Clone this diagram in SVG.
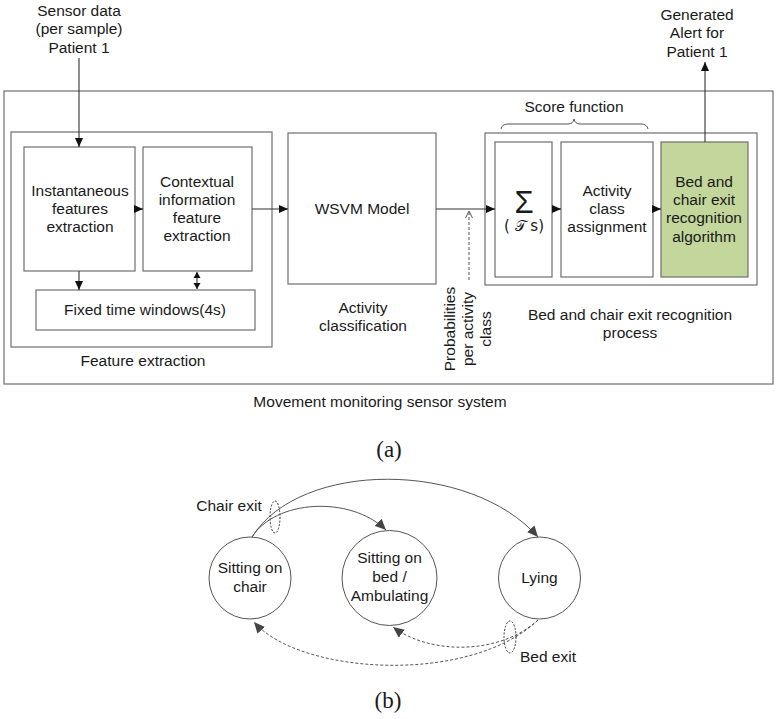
<svg xmlns="http://www.w3.org/2000/svg" width="777" height="719" viewBox="0 0 777 719">
<defs>
<style>
text{font-family:"Liberation Sans",Arial,sans-serif;font-size:15.5px;fill:#1a1a1a;text-anchor:middle}
.box{fill:#fff;stroke:#6e6e6e;stroke-width:1.2}
.ln{fill:none;stroke:#333;stroke-width:1.1}
.gl{fill:none;stroke:#555;stroke-width:1}
.dash{fill:none;stroke:#555;stroke-width:1;stroke-dasharray:3,2}
.dot{fill:none;stroke:#333;stroke-width:1;stroke-dasharray:2,1.5}
.serif{font-family:"Liberation Serif","Times New Roman",serif;font-size:23px}
</style>
<marker id="ah" markerWidth="10" markerHeight="8" refX="9" refY="4" orient="auto" markerUnits="userSpaceOnUse">
<path d="M0,0 L9,4 L0,8 Z" fill="#111"/>
</marker>
<marker id="ahs" markerWidth="8" markerHeight="8" refX="6" refY="4" orient="auto-start-reverse" markerUnits="userSpaceOnUse">
<path d="M0,0.5 L6,4 L0,7.5 Z" fill="#111"/>
</marker>
<marker id="ag" markerWidth="12" markerHeight="10" refX="11" refY="5" orient="auto" markerUnits="userSpaceOnUse">
<path d="M0,0 L11,5 L0,10 Z" fill="#444"/>
</marker>
<marker id="ao" markerWidth="8" markerHeight="8" refX="7" refY="4" orient="auto" markerUnits="userSpaceOnUse">
<path d="M0,0.5 L7,4 L0,7.5" fill="none" stroke="#555" stroke-width="1"/>
</marker>
</defs>
<rect width="777" height="719" fill="#fff"/>

<g id="system">
<rect class="box" x="4" y="91" width="769" height="293"/>
<text x="380" y="407">Movement monitoring sensor system</text>
</g>

<g id="feature-extraction">
<rect class="box" x="11" y="132" width="261" height="215"/>
<text x="143" y="366">Feature extraction</text>
</g>

<g id="instantaneous">
<rect class="box" x="24" y="147" width="111" height="124"/>
<text x="80" y="196">Instantaneous</text>
<text x="80" y="214">features</text>
<text x="80" y="232">extraction</text>
</g>

<g id="contextual">
<rect class="box" x="143" y="147" width="109" height="124"/>
<text x="197" y="187">Contextual</text>
<text x="197" y="205">information</text>
<text x="197" y="223">feature</text>
<text x="197" y="241">extraction</text>
</g>

<g id="fixed-windows">
<rect class="box" x="36" y="290" width="219" height="40"/>
<text x="145" y="315">Fixed time windows(4s)</text>
</g>

<g id="wsvm">
<rect class="box" x="288" y="133" width="148" height="151"/>
<text x="362" y="214">WSVM Model</text>
<text x="363" y="313">Activity</text>
<text x="363" y="331">classification</text>
</g>

<g id="recognition-process">
<rect class="box" x="485" y="133" width="272" height="152"/>
<text x="630" y="320">Bed and chair exit recognition</text>
<text x="630" y="338">process</text>
</g>

<g id="score-function">
<path class="gl" d="M501,129 Q502,124 508,124 L568,124 Q573,124 574,119 Q575,124 580,124 L641,124 Q647,124 648,129"/>
<text x="574" y="112">Score function</text>
</g>

<g id="sum">
<rect class="box" x="495" y="142" width="57" height="135"/>
<text x="524" y="213" style="font-size:31px">Σ</text>
<text x="524" y="231" style="font-family:'DejaVu Sans',sans-serif;font-size:15px">( 𝒯 s)</text>
</g>

<g id="activity-class">
<rect class="box" x="561" y="142" width="92" height="135"/>
<text x="607" y="196">Activity</text>
<text x="607" y="214">class</text>
<text x="607" y="232">assignment</text>
</g>

<g id="exit-algorithm">
<rect x="661" y="142" width="87" height="135" fill="#c3d69b" stroke="#6e6e6e" stroke-width="1.2"/>
<text x="704" y="187">Bed and</text>
<text x="704" y="205">chair exit</text>
<text x="704" y="223">recognition</text>
<text x="704" y="242">algorithm</text>
</g>

<g id="sensor-input">
<text x="79" y="16">Sensor data</text>
<text x="79" y="34">(per sample)</text>
<text x="79" y="53">Patient 1</text>
</g>

<g id="alert-output">
<text x="697" y="20">Generated</text>
<text x="697" y="38">Alert for</text>
<text x="697" y="57">Patient 1</text>
</g>

<g id="probabilities-label">
<text transform="translate(455,329) rotate(-90)">Probabilities</text>
<text transform="translate(473,329) rotate(-90)">per activity</text>
<text transform="translate(491,329) rotate(-90)">class</text>
</g>

<g id="caption-a"><text class="serif" x="389" y="457">(a)</text></g>

<g id="chair">
<circle class="gl" cx="250" cy="578" r="41"/>
<text x="250" y="573">Sitting on</text>
<text x="250" y="592">chair</text>
</g>
<g id="bed-ambulating">
<circle class="gl" cx="389.5" cy="578" r="47.5"/>
<text x="389.5" y="563">Sitting on</text>
<text x="389.5" y="582">bed /</text>
<text x="389.5" y="601">Ambulating</text>
</g>
<g id="lying">
<circle class="gl" cx="539.5" cy="578" r="41"/>
<text x="539.5" y="583">Lying</text>
</g>

<g id="connectors">
<line class="ln" x1="79" y1="58" x2="79" y2="147" marker-end="url(#ah)"/>
<line class="ln" x1="135" y1="209" x2="143" y2="209" marker-end="url(#ah)"/>
<line class="ln" x1="252" y1="209" x2="288" y2="209" marker-end="url(#ah)"/>
<line class="ln" x1="79" y1="271" x2="79" y2="290" marker-end="url(#ah)"/>
<line class="ln" x1="197" y1="272" x2="197" y2="289" marker-start="url(#ahs)" marker-end="url(#ahs)"/>
<line class="ln" x1="436" y1="209" x2="495" y2="209" marker-end="url(#ah)"/>
<line class="ln" x1="552" y1="209" x2="561" y2="209" marker-end="url(#ah)"/>
<line class="ln" x1="653" y1="209" x2="661" y2="209" marker-end="url(#ah)"/>
<line class="ln" x1="705" y1="142" x2="705" y2="62" marker-end="url(#ah)"/>
<line class="dash" x1="469" y1="280" x2="469" y2="211" marker-end="url(#ao)"/>

<path class="gl" d="M252,537 C275,500 350,495 386,530" marker-end="url(#ag)"/>
<path class="gl" d="M252,537 C300,460 470,460 538,537" marker-end="url(#ag)"/>
<path class="dash" d="M538,620 C470,685 300,675 254,622" marker-end="url(#ag)"/>
<path class="dash" d="M538,620 C500,655 430,655 393,627" marker-end="url(#ag)"/>

<ellipse class="dot" cx="275" cy="517" rx="5" ry="16"/>
<ellipse class="dot" cx="510" cy="637" rx="6" ry="16"/>
</g>

<g id="labels-b">
<text x="229" y="511">Chair exit</text>
<text x="548" y="662">Bed exit</text>
</g>

<g id="caption-b"><text class="serif" x="388" y="708">(b)</text></g>
</svg>
